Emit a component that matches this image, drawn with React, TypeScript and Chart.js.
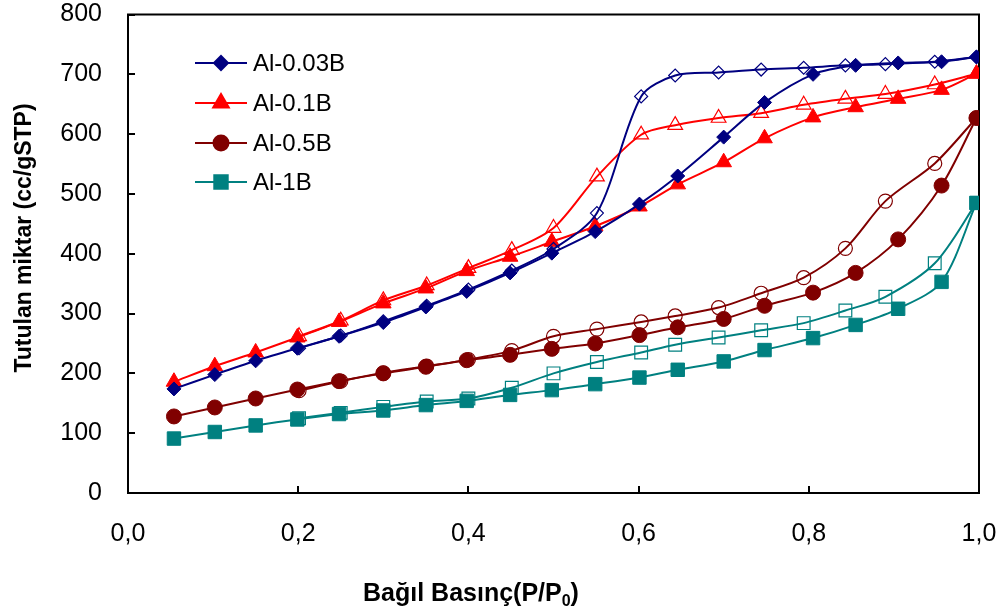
import React, { useEffect, useRef } from 'react';
import { Chart, registerables } from 'chart.js';
import { drawPoint } from 'chart.js/helpers';

Chart.register(...registerables);

// ---- data ----
const seriesNames = ['Al-0.03B', 'Al-0.1B', 'Al-0.5B', 'Al-1B'];
const seriesColors = ['#000080', '#FF0000', '#800000', '#008080'];
const seriesMarkers = ['rectRot', 'triangle', 'circle', 'rect'];
const markerRadius = [7, 9, 7.5, 9.5];

// relative pressure (P/P0) – adsorption and desorption branches
const adsorptionP = [0.054, 0.102, 0.150, 0.199, 0.248, 0.300, 0.350, 0.398, 0.449, 0.498, 0.549, 0.601, 0.646, 0.700, 0.748, 0.805, 0.855, 0.905, 0.956, 0.997];
const desorptionP = [0.997, 0.948, 0.890, 0.843, 0.794, 0.744, 0.694, 0.643, 0.603, 0.551, 0.500, 0.451, 0.400, 0.351, 0.300, 0.250, 0.201];

// adsorbed amount (cc/gSTP)
const ads003B = [174, 198, 221, 242, 262, 285, 311, 337, 368, 401, 437, 483, 530, 595, 653, 700, 715, 719, 721, 729];
const des003B = [729, 721, 717, 715, 711, 708, 703, 698, 663, 468, 408, 372, 340, 313, 287, 263, 242];

const ads01B = [186, 212, 235, 260, 286, 317, 342, 371, 395, 420, 446, 479, 516, 553, 593, 628, 645, 659, 674, 701];
const des01B = [701, 683, 667, 659, 649, 635, 627, 615, 599, 529, 443, 406, 376, 347, 322, 288, 262];

const ads05B = [128, 143, 158, 173, 187, 200, 211, 222, 231, 241, 250, 264, 277, 291, 313, 335, 368, 424, 514, 627];
const des05B = [627, 551, 488, 409, 360, 334, 310, 296, 286, 274, 262, 238, 223, 212, 201, 187, 171];

const ads1B = [91, 102, 113, 123, 132, 138, 147, 154, 164, 172, 182, 193, 206, 220, 239, 259, 281, 308, 353, 485];
const des1B = [485, 384, 328, 305, 284, 272, 260, 248, 235, 219, 200, 176, 158, 153, 144, 134, 125];

const adsorptionSeries = [ads003B, ads01B, ads05B, ads1B];
const desorptionSeries = [des003B, des01B, des05B, des1B];

const xTitle = 'Bağıl Basınç(P/P';
const xTitleSub = '0';
const yTitle = 'Tutulan miktar (cc/gSTP)';

const FONT = '"Liberation Sans", Arial, sans-serif';

const toPoints = (xs: number[], ys: number[]) => xs.map((x, i) => ({ x, y: ys[i] }));

const zeroPadding = (s: any) => {
  s.paddingTop = 0;
  s.paddingBottom = 0;
  s.paddingLeft = 0;
  s.paddingRight = 0;
};

const decorPlugin = {
  id: 'decor',
  beforeDatasetsDraw(chart: any) {
    const { ctx, chartArea: a } = chart;
    ctx.save();
    ctx.strokeStyle = '#000';
    ctx.lineWidth = 2;
    ctx.strokeRect(a.left, a.top, a.right - a.left, a.bottom - a.top);
    ctx.restore();
  },
  afterDraw(chart: any) {
    const { ctx } = chart;
    ctx.save();
    // x title
    ctx.fillStyle = '#000';
    ctx.textBaseline = 'alphabetic';
    ctx.font = `bold 25px ${FONT}`;
    const mainW = ctx.measureText(xTitle).width;
    ctx.font = `bold 16px ${FONT}`;
    const subW = ctx.measureText(xTitleSub).width;
    ctx.font = `bold 25px ${FONT}`;
    const closeW = ctx.measureText(')').width;
    const total = mainW + subW + closeW;
    const x0 = 471 - total / 2;
    const by = 601;
    ctx.textAlign = 'left';
    ctx.fillText(xTitle, x0, by);
    ctx.font = `bold 16px ${FONT}`;
    ctx.fillText(xTitleSub, x0 + mainW, by + 5);
    ctx.font = `bold 25px ${FONT}`;
    ctx.fillText(')', x0 + mainW + subW, by);

    // y title
    ctx.save();
    ctx.translate(25, 238);
    ctx.rotate(-Math.PI / 2);
    ctx.font = `bold 23px ${FONT}`;
    ctx.textAlign = 'center';
    ctx.textBaseline = 'middle';
    ctx.fillText(yTitle, 0, 0);
    ctx.restore();

    // legend
    const rows = [63, 103, 143, 182];
    seriesNames.forEach((name, i) => {
      const y = rows[i];
      ctx.strokeStyle = seriesColors[i];
      ctx.fillStyle = seriesColors[i];
      ctx.lineWidth = 2;
      ctx.beginPath();
      ctx.moveTo(195, y);
      ctx.lineTo(247, y);
      ctx.stroke();
      drawPoint(ctx, { pointStyle: seriesMarkers[i] as any, radius: markerRadius[i], rotation: 0, borderWidth: 1 }, 221, y);
      ctx.fillStyle = '#000';
      ctx.font = `24px ${FONT}`;
      ctx.textAlign = 'left';
      ctx.textBaseline = 'middle';
      ctx.fillText(name, 253, y + 1);
    });
    ctx.restore();
  },
};

export default function App() {
  const ref = useRef<HTMLCanvasElement | null>(null);

  useEffect(() => {
    if (!ref.current) return;
    const datasets: any[] = [];
    seriesNames.forEach((name, i) => {
      datasets.push({
        label: name + ' adsorpsiyon',
        data: toPoints(adsorptionP, adsorptionSeries[i]),
        borderColor: seriesColors[i],
        backgroundColor: seriesColors[i],
        borderWidth: 2,
        tension: 0.3,
        pointStyle: seriesMarkers[i],
        pointRadius: markerRadius[i],
        pointBorderWidth: 1,
        pointBackgroundColor: seriesColors[i],
        pointBorderColor: seriesColors[i],
      });
      datasets.push({
        label: name + ' desorpsiyon',
        data: toPoints(desorptionP, desorptionSeries[i]),
        borderColor: seriesColors[i],
        backgroundColor: 'transparent',
        borderWidth: 2,
        tension: 0.3,
        pointStyle: seriesMarkers[i],
        pointRadius: markerRadius[i] - 0.5,
        pointBorderWidth: 1.2,
        pointBackgroundColor: 'rgba(255,255,255,0)',
        pointBorderColor: seriesColors[i],
      });
    });

    const chart = new Chart(ref.current, {
      type: 'line',
      data: { datasets },
      plugins: [decorPlugin],
      options: {
        responsive: false,
        animation: false,
        events: [],
        layout: { padding: { top: 14.5, right: 25, left: 0, bottom: 0 } },
        plugins: { legend: { display: false }, tooltip: { enabled: false } },
        scales: {
          x: {
            type: 'linear',
            min: 0,
            max: 1,
            afterFit: (s: any) => { s.height = 117; zeroPadding(s); },
            border: { display: false },
            grid: { drawOnChartArea: false, drawTicks: true, tickLength: -7, color: '#000', lineWidth: 2 },
            ticks: {
              stepSize: 0.2,
              padding: 33,
              color: '#000',
              font: { family: FONT, size: 25 },
              callback: (v: any) => Number(v).toFixed(1).replace('.', ','),
              maxRotation: 0,
            },
          },
          y: {
            type: 'linear',
            min: 0,
            max: 800,
            afterFit: (s: any) => { s.width = 128; zeroPadding(s); },
            border: { display: false },
            grid: { drawOnChartArea: false, drawTicks: true, tickLength: -7, color: '#000', lineWidth: 2 },
            ticks: {
              stepSize: 100,
              padding: 33,
              color: '#000',
              font: { family: FONT, size: 25 },
            },
          },
        },
      },
    });
    return () => chart.destroy();
  }, []);

  return (
    <div style={{ position: 'absolute', left: 0, top: 0, width: 1004, height: 610, background: '#fff' }}>
      <canvas ref={ref} width={1004} height={610} />
    </div>
  );
}
